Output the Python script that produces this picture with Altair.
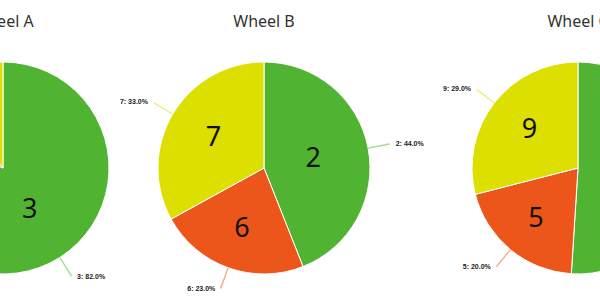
import altair as alt
import pandas as pd

# ---- data ----
wheels = ["Wheel A", "Wheel B", "Wheel C"]
slice_wheel = ["Wheel A", "Wheel A", "Wheel A",
               "Wheel B", "Wheel B", "Wheel B",
               "Wheel C", "Wheel C", "Wheel C"]
slice_label = ["3", "8", "4", "2", "6", "7", "1", "5", "9"]
slice_share = [82, 8, 10, 44, 23, 33, 51, 20, 29]
slice_colour = ["green", "orange", "yellow"] * 3
slice_order = [0, 1, 2] * 3

colour_names = ["green", "orange", "yellow"]
colour_values = ["#50B432", "#ED561B", "#DDDF00"]

slices = pd.DataFrame({
    "wheel": slice_wheel,
    "label": slice_label,
    "share": slice_share,
    "colour": slice_colour,
    "order": slice_order,
})
titles = pd.DataFrame({"wheel": wheels})

R = 106
wheel_idx = "indexof(['Wheel A','Wheel B','Wheel C'], datum.wheel)"

x_enc = alt.X("idx:Q", axis=None, stack=False,
              scale=alt.Scale(domain=[0, 1, 2], range=[3, 264, 578]))
col = alt.Color("colour:N", legend=None,
                scale=alt.Scale(domain=colour_names, range=colour_values))

base = alt.Chart(slices).transform_calculate(
    idx=wheel_idx
).transform_window(
    cum="sum(share)", groupby=["wheel"], sort=[alt.SortField("order")]
).transform_calculate(
    a_start="2*PI*(datum.cum - datum.share)/100",
    a_end="2*PI*datum.cum/100",
    a_mid="2*PI*(datum.cum - datum.share/2)/100",
    lr=f"max(50, 2*{R}*sin(PI*datum.share/100)/(3*PI*datum.share/100))",
    txt="datum.label + ': ' + format(datum.share, '.1f') + '%'",
).transform_calculate(
    c0="datum.a_mid - 0.006", c1="datum.a_mid + 0.006"
)

pies = base.mark_arc(radius=R, stroke="white", strokeWidth=1).encode(
    x=x_enc,
    y=alt.value(168),
    theta=alt.Theta("a_start:Q", scale=None, stack=False),
    theta2="a_end:Q",
    color=col,
)

connectors = base.mark_arc(radius=128, radius2=R, opacity=0.5).encode(
    x=x_enc,
    y=alt.value(168),
    theta=alt.Theta("c0:Q", scale=None, stack=False),
    theta2="c1:Q",
    color=col,
)

numbers = base.mark_text(font="Noto Sans", fontSize=27, color="#111",
                         baseline="middle", align="center").encode(
    x=x_enc,
    y=alt.value(168),
    theta=alt.Theta("a_mid:Q", scale=None, stack=False),
    radius=alt.Radius("lr:Q", scale=None),
    text="label:N",
)

out_right = base.transform_filter("datum.a_mid < PI").mark_text(
    font="Liberation Sans", fontSize=7, fontWeight="bold", color="#222",
    align="left", baseline="middle", radius=129, dx=5
).encode(
    x=x_enc,
    y=alt.value(168),
    theta=alt.Theta("a_mid:Q", scale=None, stack=False),
    text="txt:N",
)

out_left = base.transform_filter("datum.a_mid >= PI").mark_text(
    font="Liberation Sans", fontSize=7, fontWeight="bold", color="#222",
    align="right", baseline="middle", radius=129, dx=-5
).encode(
    x=x_enc,
    y=alt.value(168),
    theta=alt.Theta("a_mid:Q", scale=None, stack=False),
    text="txt:N",
)

title_layer = alt.Chart(titles).transform_calculate(
    idx=wheel_idx
).mark_text(font="Noto Sans", fontSize=16, color="#333",
            baseline="middle", align="center").encode(
    x=x_enc,
    y=alt.value(22),
    text="wheel:N",
)

chart = alt.layer(pies, connectors, numbers, out_right, out_left, title_layer).properties(
    width=600, height=300, autosize=alt.AutoSizeParams(type="none"), padding=0,
    background="white",
).configure_view(stroke=None)

chart.save("out.html", embed_options={"renderer": "svg", "actions": False})
